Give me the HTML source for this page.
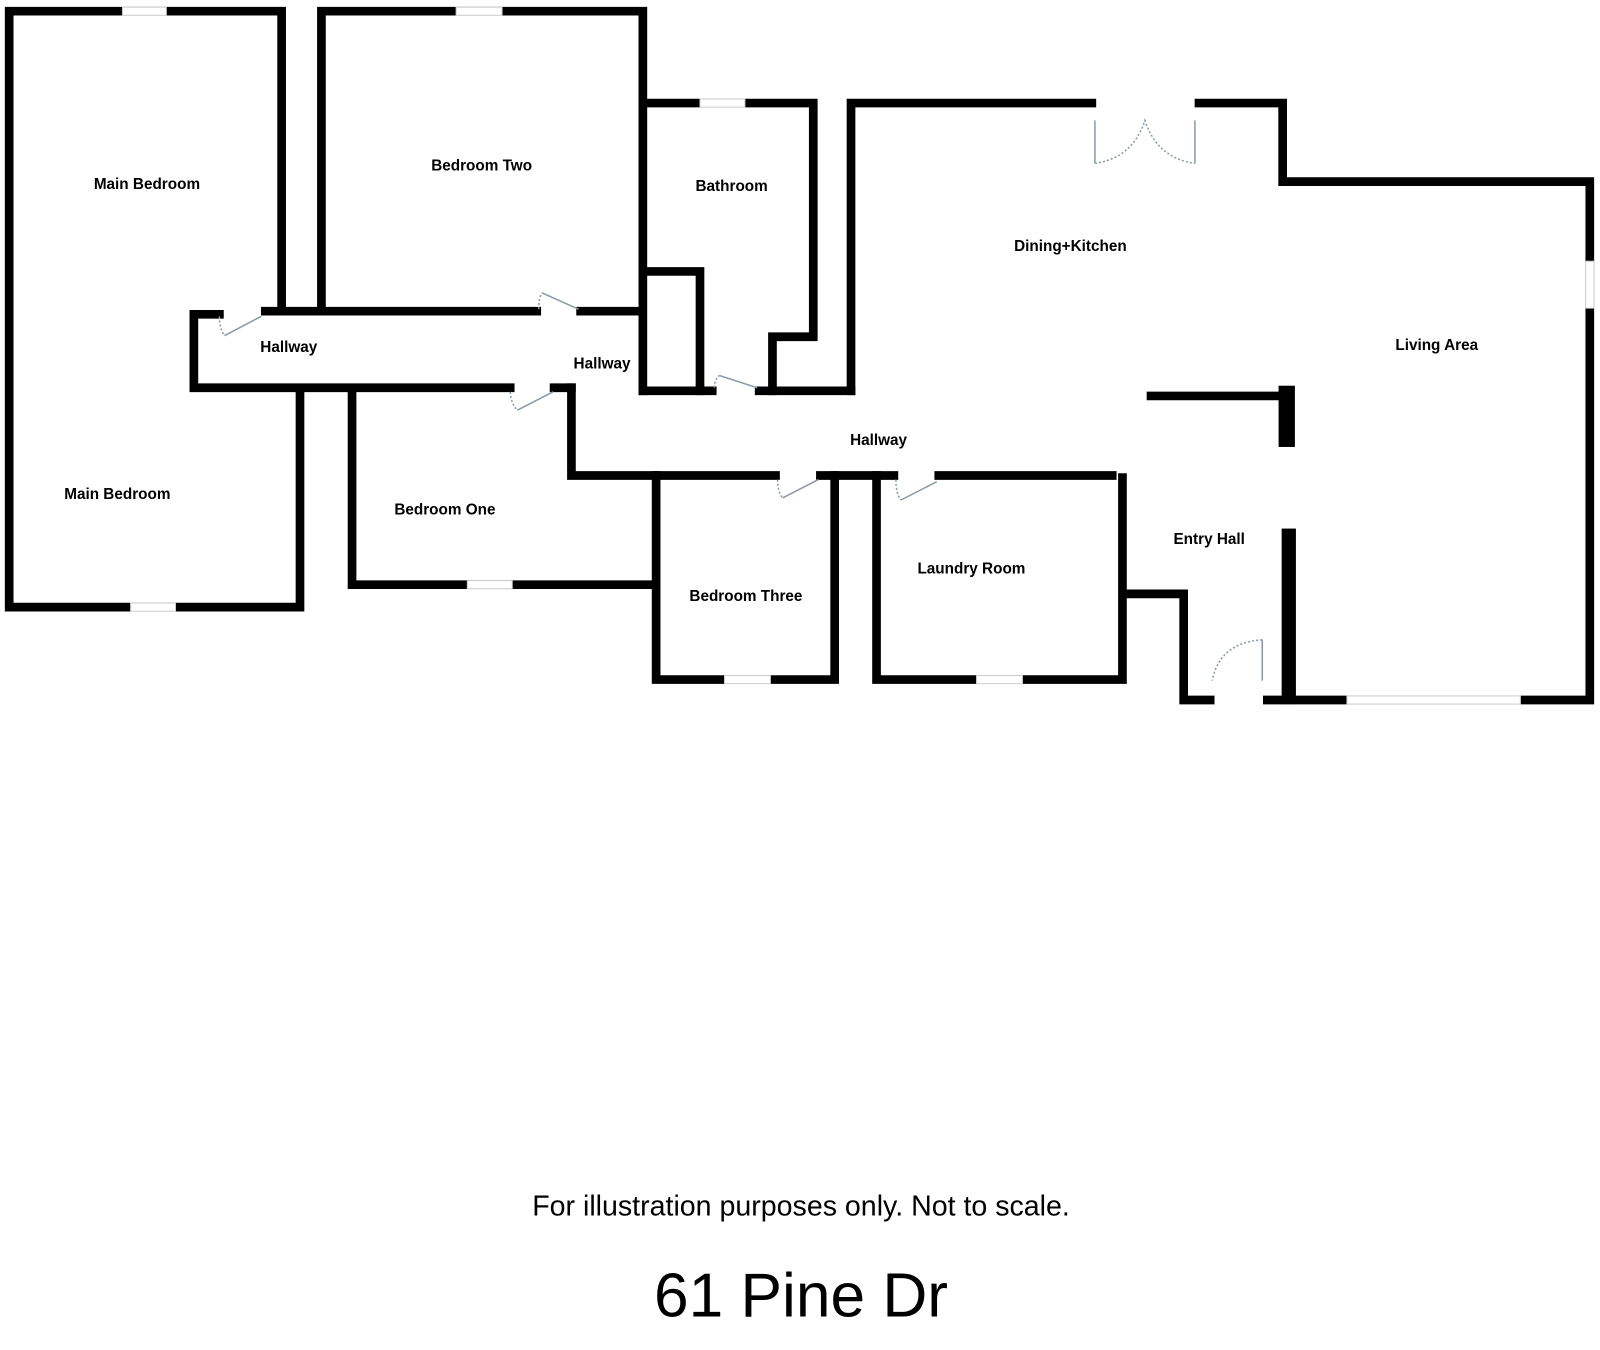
<!DOCTYPE html>
<html><head><meta charset="utf-8"><style>html,body{margin:0;padding:0;background:#fff}svg{display:block}</style></head>
<body>
<svg width="1600" height="1350" viewBox="0 0 1568 1323" xmlns="http://www.w3.org/2000/svg">
<rect width="1568" height="1323" fill="#fff"/>
<g stroke="#000" stroke-width="8.5" fill="none" stroke-linecap="square" stroke-linejoin="miter">
<polyline points="276,305 276,11 9,11 9,595 294,595 294,383"/>
<polyline points="215,308 190,308 190,380 500,380"/>
<line x1="260" y1="305" x2="526" y2="305"/>
<line x1="569" y1="305" x2="628" y2="305"/>
<line x1="543" y1="380" x2="560" y2="380"/>
<polyline points="560,380 560,466 760,466"/>
<line x1="804" y1="466" x2="876" y2="466"/>
<line x1="920" y1="466" x2="1090" y2="466"/>
<polyline points="315,305 315,11 630,11 630,383"/>
<polyline points="630,101 797,101 797,330 757,330 757,383"/>
<polyline points="630,266 686,266 686,383"/>
<line x1="630" y1="383" x2="698" y2="383"/>
<line x1="744" y1="383" x2="834" y2="383"/>
<polyline points="834,383 834,101 1070,101"/>
<polyline points="1175,101 1257,101 1257,178 1558,178 1558,686 1242,686"/>
<polyline points="1128,388 1258,388"/>
<polyline points="345,383 345,573 640,573"/>
<polyline points="643,466 643,666 818,666 818,466"/>
<polyline points="859,466 859,666 1100,666 1100,468"/>
<polyline points="1102,582 1160,582 1160,686 1186,686"/>
</g>
<rect x="1253" y="378" width="16" height="60" fill="#000"/>
<rect x="1256" y="518" width="14" height="172" fill="#000"/>
<g fill="#fff" stroke="#ccc" stroke-width="1">
<rect x="120" y="7" width="43" height="8"/>
<rect x="128" y="591" width="44" height="8"/>
<rect x="447" y="7" width="45" height="8"/>
<rect x="686" y="97" width="44" height="8"/>
<rect x="458" y="569" width="44" height="8"/>
<rect x="710" y="662" width="45" height="8"/>
<rect x="957" y="662" width="45" height="8"/>
<rect x="1320" y="682" width="170" height="8"/>
<rect x="1554" y="256" width="8" height="46"/>
</g>
<g stroke="#8a9aa6" stroke-width="1.5" fill="none">
<line x1="220" y1="329" x2="256" y2="310"/>
<path d="M215,310 Q215,322 220,329" stroke-dasharray="2,2"/>
<line x1="531" y1="287" x2="567" y2="303"/>
<path d="M528,303 Q528,292 531,287" stroke-dasharray="2,2"/>
<line x1="507" y1="402" x2="542" y2="384"/>
<path d="M500,384 Q501,396 507,402" stroke-dasharray="2,2"/>
<line x1="705" y1="368" x2="742" y2="380"/>
<path d="M700,380 Q700,372 705,368" stroke-dasharray="2,2"/>
<line x1="767" y1="488" x2="802" y2="470"/>
<path d="M762,470 Q762,482 767,488" stroke-dasharray="2,2"/>
<line x1="883" y1="490" x2="918" y2="472"/>
<path d="M878,470 Q878,484 883,490" stroke-dasharray="2,2"/>
<line x1="1073" y1="118" x2="1073" y2="160"/>
<line x1="1171" y1="118" x2="1171" y2="160"/>
<path d="M1073,160 Q1110,155 1122,118 Q1134,155 1171,160" stroke-dasharray="2,2"/>
<line x1="1237" y1="627" x2="1237" y2="667"/>
<path d="M1237,627 Q1195,630 1188,667" stroke-dasharray="2,2"/>
</g>
<g font-family="Liberation Sans, sans-serif" font-weight="bold" font-size="15" fill="#000" text-anchor="middle">
<text x="144" y="185">Main Bedroom</text>
<text x="115" y="489">Main Bedroom</text>
<text x="472" y="167">Bedroom Two</text>
<text x="717" y="187">Bathroom</text>
<text x="283" y="345">Hallway</text>
<text x="590" y="361">Hallway</text>
<text x="861" y="436">Hallway</text>
<text x="1049" y="246">Dining+Kitchen</text>
<text x="1408" y="343">Living Area</text>
<text x="436" y="504">Bedroom One</text>
<text x="731" y="589">Bedroom Three</text>
<text x="952" y="562">Laundry Room</text>
<text x="1185" y="533">Entry Hall</text>
</g>
<g font-family="Liberation Sans, sans-serif" fill="#000" text-anchor="middle">
<text x="785" y="1191" font-size="28">For illustration purposes only. Not to scale.</text>
<text x="785" y="1290" font-size="61">61 Pine Dr</text>
</g>
</svg>
</body></html>
